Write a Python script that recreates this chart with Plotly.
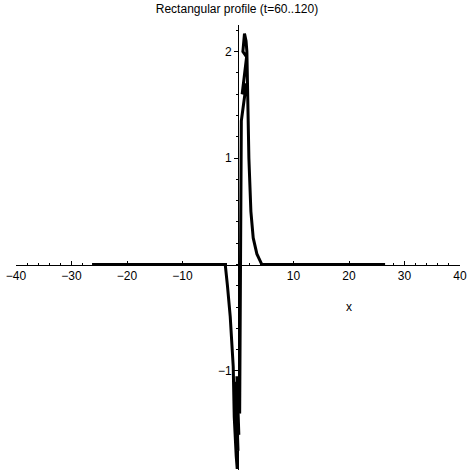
import plotly.graph_objects as go

# parametric curve traced for t = 60..120
x_vals = [-26.3, -3.0, -2.3, -1.9, -1.4, -0.86, -0.68, -0.32, -0.14,
          -0.05, -0.6, 0.0, -0.4, 0.15, -0.2, 0.3, 0.35, 0.4, 0.45,
          0.5, 0.52, 0.6, 1.5, 0.75, 1.55, 0.88, 1.17, 1.45,
          1.6, 1.78, 1.96, 2.32, 2.74, 3.4, 4.3, 26.5]
y_vals = [0.0, 0.0, 0.0, -0.2, -0.49, -0.96, -1.43, -1.8, -1.92,
          -1.5, -1.2, -1.75, -1.1, -1.6, -1.05, -1.4, -0.9, -0.4, 0.0,
          0.5, 1.0, 1.35, 1.7, 1.6, 1.95, 2.0, 2.17, 2.1,
          2.0, 1.5, 1.0, 0.5, 0.25, 0.1, 0.0, 0.0]

x_ticks = [-40, -30, -20, -10, 10, 20, 30, 40]
y_ticks = [-1, 1, 2]

x_range = [-40, 40]
y_range = [-1.93, 2.25]

font = dict(family="Liberation Sans, Arial, sans-serif", size=12, color="black")

fig = go.Figure(go.Scatter(
    x=x_vals, y=y_vals, mode="lines",
    line=dict(color="black", width=3),
    showlegend=False, hoverinfo="skip",
))

# axes cross at the origin, like the original plot
y0_frac = (0 - y_range[0]) / (y_range[1] - y_range[0])
x0_frac = (0 - x_range[0]) / (x_range[1] - x_range[0])

fig.update_xaxes(
    range=x_range, anchor="free", position=y0_frac, automargin=False,
    showline=True, linecolor="black", linewidth=1,
    showgrid=False, zeroline=False,
    tickmode="array", tickvals=x_ticks,
    ticks="inside", ticklen=4, tickcolor="black",
    minor=dict(dtick=2, tick0=0, ticks="inside", ticklen=2, tickcolor="black"),
    tickfont=font,
)
fig.update_yaxes(
    range=y_range, anchor="free", position=x0_frac, automargin=False,
    showline=True, linecolor="black", linewidth=1,
    showgrid=False, zeroline=False,
    tickmode="array", tickvals=y_ticks,
    ticks="outside", ticklen=4, tickcolor="black",
    minor=dict(dtick=0.2, tick0=0, ticks="outside", ticklen=2, tickcolor="black"),
    tickfont=font,
)

fig.add_annotation(x=20, y=-0.4, text="x", showarrow=False, font=font)

fig.update_layout(
    width=474, height=474,
    margin=dict(l=16, r=14, t=25, b=4, autoexpand=False),
    paper_bgcolor="white", plot_bgcolor="white",
    title=dict(text="Rectangular profile (t=60..120)", x=0.5, xanchor="center",
               y=1 - 9 / 474, yanchor="middle", font=font),
)

# drop the browser's default body margin so the figure sits at the page corner
fig.write_html("out.html", config={"displayModeBar": False},
               post_script="document.body.style.margin='0';")
